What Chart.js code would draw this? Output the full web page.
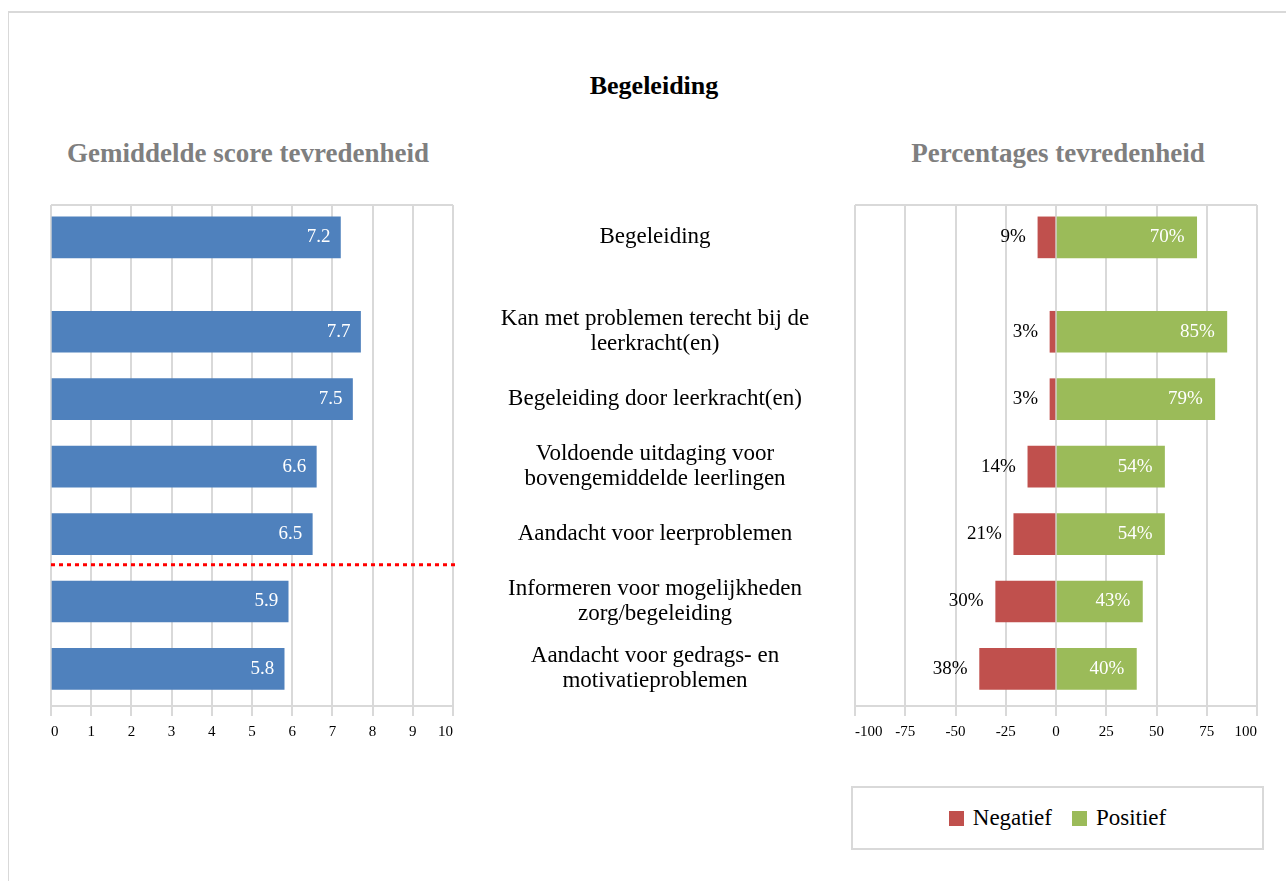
<!DOCTYPE html>
<html>
<head>
<meta charset="utf-8">
<title>Begeleiding</title>
<script src="https://cdn.jsdelivr.net/npm/chart.js@4.4.0/dist/chart.umd.min.js"></script>
<style>
  body { margin: 0; background: #fff; font-family: "Liberation Serif", "Times New Roman", serif; }
  #page { position: relative; width: 1286px; height: 881px; overflow: hidden; }
  #frame { position: absolute; left: 8px; top: 11px; width: 1300px; height: 900px;
           border-top: 2px solid #d9d9d9; border-left: 1px solid #d9d9d9; }
  .txt { position: absolute; transform: translate(-50%, -50%); white-space: nowrap; font-weight: bold; }
  #title { left: 654px; top: 86px; font-size: 26px; color: #000; }
  .sub { top: 153px; font-size: 27px; color: #7f7f7f; }
  canvas { position: absolute; top: 195px; }
  #scoreChart { left: 0; }
  #pctChart { left: 460px; }
  #legend { position: absolute; left: 851px; top: 786px; width: 409px; height: 60px;
            border: 2px solid #d9d9d9; display: flex; align-items: center; justify-content: center;
            font-size: 23px; }
  .item { display: flex; align-items: center; margin: 0 10px; }
  .swatch { width: 15px; height: 15px; margin-right: 9px; }
</style>
</head>
<body>
<div id="page">
  <div id="frame"></div>
  <div id="title" class="txt">Begeleiding</div>
  <div class="txt sub" style="left:248px">Gemiddelde score tevredenheid</div>
  <div class="txt sub" style="left:1058px">Percentages tevredenheid</div>
  <canvas id="scoreChart" width="470" height="560"></canvas>
  <canvas id="pctChart" width="826" height="560"></canvas>
  <div id="legend"></div>
</div>
<script>
// onderwerpen (eerste rij = totaal van het thema)
const categories = [
    "Begeleiding",
    ["Kan met problemen terecht bij de", "leerkracht(en)"],
    "Begeleiding door leerkracht(en)",
    ["Voldoende uitdaging voor", "bovengemiddelde leerlingen"],
    "Aandacht voor leerproblemen",
    ["Informeren voor mogelijkheden", "zorg/begeleiding"],
    ["Aandacht voor gedrags- en", "motivatieproblemen"]
];
const meanScores = [7.2, 7.7, 7.5, 6.6, 6.5, 5.9, 5.8];
const negativePct = [9, 3, 3, 14, 21, 30, 38];
const positivePct = [70, 85, 79, 54, 54, 43, 40];
const seriesNames = ["Negatief", "Positief"];
const scoreThreshold = 6;

const serif = "'Liberation Serif', 'Times New Roman', serif";
const gridColor = "#d9d9d9";
Chart.defaults.font.family = serif;
Chart.defaults.color = "#000";

// totaalrij staat iets los van de deelvragen
const rowPos = (i) => (i === 0 ? 0 : i + 0.4);

const yScale = { type: "linear", display: false, reverse: true, offset: false, min: -0.48, max: 6.95 };

const xScale = (min, max, step) => ({
    type: "linear",
    min: min,
    max: max,
    ticks: { stepSize: step, padding: 7, align: "inner", font: { size: 15 }, color: "#000" },
    grid: { color: gridColor, lineWidth: 2, tickLength: 10 },
    border: { color: gridColor, width: 2 },
    afterFit: (scale) => { scale.height = 49; }
});

const plotTop = {
    id: "plotTop",
    beforeDatasetsDraw(chart) {
        const { ctx, chartArea } = chart;
        ctx.save();
        ctx.strokeStyle = gridColor;
        ctx.lineWidth = 2;
        ctx.beginPath();
        ctx.moveTo(chartArea.left, chartArea.top);
        ctx.lineTo(chartArea.right, chartArea.top);
        ctx.stroke();
        ctx.restore();
    }
};

const barLabels = {
    id: "barLabels",
    afterDatasetsDraw(chart, args, opts) {
        const { ctx } = chart;
        ctx.save();
        ctx.font = "19px " + serif;
        ctx.textBaseline = "middle";
        ctx.textAlign = "right";
        chart.data.datasets.forEach((ds, di) => {
            chart.getDatasetMeta(di).data.forEach((bar, i) => {
                const v = ds.data[i].x;
                if (v < 0) {
                    ctx.fillStyle = "#000";
                    ctx.fillText(opts.format(v), bar.x - 12, bar.y);
                } else {
                    ctx.fillStyle = "#fff";
                    ctx.fillText(opts.format(v), bar.x - opts.inset, bar.y);
                }
            });
        });
        ctx.restore();
    }
};

// rode stippellijn tussen scores boven en onder de drempel
const thresholdLine = {
    id: "thresholdLine",
    afterDatasetsDraw(chart) {
        const k = meanScores.findIndex((v) => v < scoreThreshold);
        if (k < 1) return;
        const y = chart.scales.y;
        const py = (y.getPixelForValue(rowPos(k - 1)) + y.getPixelForValue(rowPos(k))) / 2 - 3;
        const { ctx, chartArea } = chart;
        ctx.save();
        ctx.strokeStyle = "#ff0000";
        ctx.lineWidth = 3;
        ctx.setLineDash([4, 4]);
        ctx.beginPath();
        ctx.moveTo(chartArea.left, py);
        ctx.lineTo(chartArea.right + 3, py);
        ctx.stroke();
        ctx.restore();
    }
};

const rowLabels = {
    id: "rowLabels",
    afterDraw(chart) {
        const { ctx, chartArea } = chart;
        const y = chart.scales.y;
        const cx = chartArea.left - 200;
        const lh = 25;
        ctx.save();
        ctx.font = "23px " + serif;
        ctx.fillStyle = "#000";
        ctx.textAlign = "center";
        ctx.textBaseline = "middle";
        categories.forEach((c, i) => {
            const lines = Array.isArray(c) ? c : [c];
            const py = y.getPixelForValue(rowPos(i));
            lines.forEach((line, j) => {
                ctx.fillText(line, cx, py + (j - (lines.length - 1) / 2) * lh);
            });
        });
        ctx.restore();
    }
};

const scoreChart = new Chart(document.getElementById("scoreChart"), {
    type: "bar",
    data: {
        datasets: [{
            label: "Gemiddelde score",
            data: meanScores.map((v, i) => ({ x: v, y: rowPos(i) })),
            backgroundColor: "#4f81bd",
            barThickness: 41
        }]
    },
    options: {
        indexAxis: "y",
        responsive: false,
        animation: false,
        layout: { padding: { left: 51, right: 17, top: 10, bottom: 0 } },
        scales: {
            x: xScale(0, 10, 1),
            y: yScale
        },
        plugins: {
            legend: { display: false },
            tooltip: { enabled: false },
            barLabels: { inset: 10, format: (v) => v.toFixed(1) }
        }
    },
    plugins: [plotTop, barLabels, thresholdLine]
});

const pctChart = new Chart(document.getElementById("pctChart"), {
    type: "bar",
    data: {
        datasets: [{
            label: seriesNames[0],
            data: negativePct.map((v, i) => ({ x: -v, y: rowPos(i) })),
            backgroundColor: "#c0504d",
            barThickness: 41
        }, {
            label: seriesNames[1],
            data: positivePct.map((v, i) => ({ x: v, y: rowPos(i) })),
            backgroundColor: "#9bbb59",
            barThickness: 41
        }]
    },
    options: {
        indexAxis: "y",
        responsive: false,
        animation: false,
        layout: { padding: { left: 395, right: 29, top: 10, bottom: 0 } },
        scales: {
            x: Object.assign(xScale(-100, 100, 25), { stacked: true }),
            y: Object.assign({}, yScale, { stacked: true })
        },
        plugins: {
            legend: { display: false },
            tooltip: { enabled: false },
            barLabels: { inset: 12, format: (v) => Math.abs(v) + "%" }
        }
    },
    plugins: [plotTop, barLabels, rowLabels]
});

// legenda in een kader onder de rechter grafiek
const legend = document.getElementById("legend");
pctChart.data.datasets.forEach((ds) => {
    const item = document.createElement("div");
    item.className = "item";
    const sw = document.createElement("span");
    sw.className = "swatch";
    sw.style.background = ds.backgroundColor;
    const label = document.createElement("span");
    label.textContent = ds.label;
    item.appendChild(sw);
    item.appendChild(label);
    legend.appendChild(item);
});
</script>
</body>
</html>
